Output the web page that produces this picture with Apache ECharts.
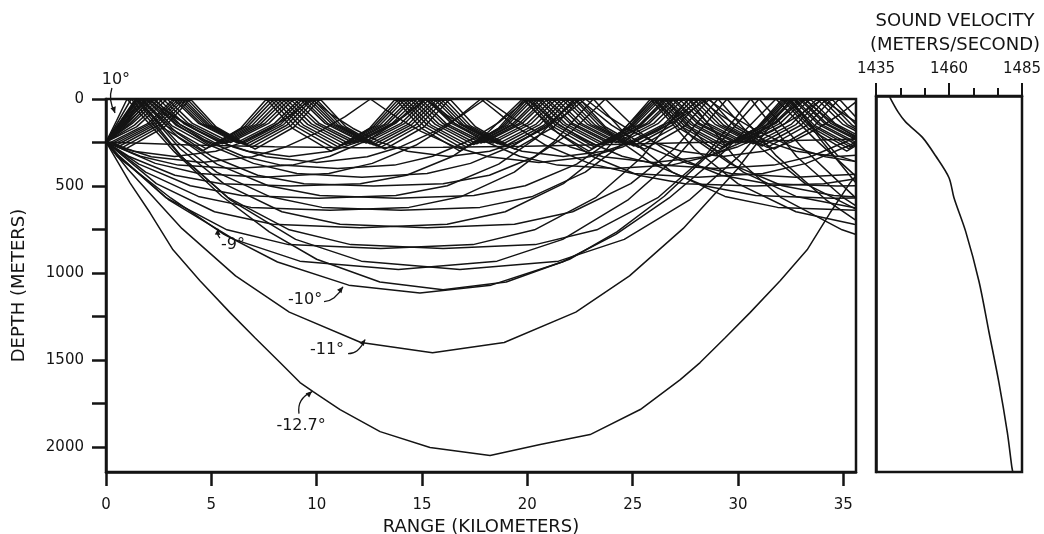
<!DOCTYPE html>
<html><head><meta charset="utf-8">
<script src="https://cdn.jsdelivr.net/npm/echarts@6/dist/echarts.min.js"></script>
<style>html,body{margin:0;padding:0;background:#fff}#c{width:1044px;height:534px}</style>
</head><body><div id="c"></div>
<script>
// ---------- tick labels ----------
const rangeTicks = [0, 5, 10, 15, 20, 25, 30, 35];
const depthTicks = [0, 250, 500, 750, 1000, 1250, 1500, 1750, 2000];
const depthLabels = [0, 500, 1000, 1500, 2000];
const velocityLabels = [1435, 1460, 1485];

// ---------- rays: [range km, depth m] ----------
const rayM127 = [[0,247],[1.14,482],[2.09,654],[3.18,867],[4.46,1045],[5.89,1228],[7.07,1372],[8.26,1515],[9.21,1630],[9.83,1682],[11.11,1785],[13.01,1912],[15.38,2003],[18.23,2049],[20.61,1986],[22.98,1929],[25.36,1785],[27.26,1613],[28.2,1515],[29.39,1372],[30.57,1228],[32.0,1045],[33.28,867],[34.37,654],[35.32,482],[35.6,440]];
const rayM11 = [[0,247],[1.05,405],[3.6,744],[6.15,1017],[8.7,1225],[12.1,1400],[15.5,1458],[18.9,1400],[22.3,1225],[24.85,1017],[27.4,744],[29.95,405],[32.5,0],[34.0,246],[35.6,483]];
const rayM10 = [[0,247],[0.53,330],[3.07,569],[5.6,778],[8.14,937],[11.52,1070],[14.9,1115],[18.28,1070],[21.66,937],[24.2,778],[26.73,569],[29.27,310],[31.8,0],[33.6,225],[35.6,445]];
const rayP10 = [[0,247],[0.5,125],[1.0,0],[3.25,304],[5.5,559],[7.75,764],[10,921],[13,1052],[16,1096],[19,1052],[22,921],[24.25,764],[26.5,559],[28.75,304],[31,0],[33,273],[35.6,570]];
const rayM95 = [[0,247],[0.62,327],[2.96,578],[6.08,807],[9.2,932],[13.88,980],[18.56,932],[21.68,807],[24.8,578],[27.14,327],[29.48,0],[31.82,327],[34.16,578],[35.6,698]];
const rayP95 = [[0,247],[0.6,125],[1.2,0],[3.54,327],[5.88,578],[9.0,807],[12.12,932],[16.8,980],[21.48,932],[24.6,807],[27.72,578],[30.06,327],[32.4,0],[34.74,327],[35.6,360]];
const rayM9 = [[0,247],[0.63,332],[2.82,565],[5.74,752],[8.66,837],[13.04,860],[17.42,837],[20.34,752],[23.26,565],[25.45,332],[27.64,0],[29.83,332],[32.02,565],[34.94,752],[35.6,779]];
const rayP9 = [[0,247],[0.7,125],[1.4,0],[3.59,332],[5.78,565],[8.7,752],[11.62,837],[16.0,860],[20.38,837],[23.3,752],[26.22,565],[28.41,332],[30.6,0],[32.79,332],[34.98,565],[35.6,615]];
const rayM85 = [[0,247],[2.39,486],[5.15,648],[7.91,720],[12.05,740],[16.19,720],[18.95,648],[21.71,486],[23.78,286],[25.85,0],[27.92,286],[29.99,486],[32.75,648],[35.51,720],[35.6,721]];
const rayP85 = [[0,247],[0.72,125],[1.45,0],[3.52,286],[5.59,486],[8.35,648],[11.11,720],[15.25,740],[19.39,720],[22.15,648],[24.91,486],[26.98,286],[29.05,0],[31.12,286],[33.19,486],[35.6,633]];
const rayM8 = [[0,247],[1.88,420],[4.38,560],[6.88,623],[10.63,640],[14.38,623],[16.88,560],[19.38,420],[21.26,247],[23.13,0],[25.0,247],[26.88,420],[29.38,560],[31.88,623],[35.6,640]];
const rayP8 = [[0,247],[0.75,125],[1.5,0],[3.38,247],[5.25,420],[7.75,560],[10.25,623],[14.0,640],[17.75,623],[20.25,560],[22.75,420],[24.63,247],[26.5,0],[28.38,247],[30.25,420],[32.75,560],[35.6,627]];
const rayM75 = [[0,247],[1.56,374],[4.0,499],[6.44,555],[10.1,570],[13.76,555],[16.2,499],[18.64,374],[20.47,220],[22.3,0],[24.13,220],[25.96,374],[28.4,499],[30.84,555],[34.5,570],[35.6,569]];
const rayP75 = [[0,247],[0.8,125],[1.6,0],[3.43,220],[5.26,374],[7.7,499],[10.14,555],[13.8,570],[17.46,555],[19.9,499],[22.34,374],[24.17,220],[26.0,0],[27.83,220],[29.66,374],[32.1,499],[34.54,555],[35.6,564]];
const rayM7 = [[0,247],[1.07,329],[3.27,438],[5.47,487],[8.77,500],[12.07,487],[14.27,438],[16.47,329],[18.12,193],[19.77,0],[21.42,193],[23.07,329],[25.27,438],[27.47,487],[30.77,500],[34.07,487],[35.6,458]];
const rayP7 = [[0,247],[0.85,125],[1.7,0],[3.35,193],[5.0,329],[7.2,438],[9.4,487],[12.7,500],[16.0,487],[18.2,438],[20.4,329],[22.05,193],[23.7,0],[25.35,193],[27.0,329],[29.2,438],[31.4,487],[34.7,500],[35.6,499]];
const rayM65 = [[0,247],[2.34,370],[4.4,428],[7.49,450],[10.58,428],[12.64,370],[14.7,266],[16.25,150],[17.79,0],[19.34,150],[20.88,266],[22.94,370],[25.0,428],[28.09,450],[31.18,428],[33.24,370],[35.3,266],[35.6,246]];
const rayP65 = [[0,247],[0.92,125],[1.85,0],[3.4,150],[4.94,266],[7.0,370],[9.06,428],[12.15,450],[15.24,428],[17.3,370],[19.36,266],[20.9,150],[22.45,0],[24.0,150],[25.54,266],[27.6,370],[29.66,428],[32.75,450],[35.6,432]];
const rayM6 = [[0,247],[1.63,329],[3.43,380],[6.13,400],[8.83,380],[10.63,329],[12.43,236],[13.78,134],[15.13,0],[16.48,134],[17.83,236],[19.63,329],[21.43,380],[24.13,400],[26.83,380],[28.63,329],[30.43,236],[31.78,134],[33.13,0],[34.48,134],[35.6,220]];
const rayP6 = [[0,247],[1.0,120],[2.0,0],[3.35,134],[4.7,236],[6.5,329],[8.3,380],[11.0,400],[13.7,380],[15.5,329],[17.3,236],[18.65,134],[20.0,0],[21.35,134],[22.7,236],[24.5,329],[26.3,380],[29.0,400],[31.7,380],[33.5,329],[35.3,236],[35.6,216]];
const rayM55 = [[0,247],[2.15,332],[4.55,365],[6.95,332],[8.55,274],[10.15,186],[11.35,101],[12.55,0],[13.75,101],[14.95,186],[16.55,274],[18.15,332],[20.55,365],[22.95,332],[24.55,274],[26.15,186],[27.35,101],[28.55,0],[29.75,101],[30.95,186],[32.55,274],[34.15,332],[35.6,360]];
const rayP55 = [[0,247],[1.0,125],[2.0,0],[3.2,101],[4.4,186],[6.0,274],[7.6,332],[10.0,365],[12.4,332],[14.0,274],[15.6,186],[16.8,101],[18.0,0],[19.2,101],[20.4,186],[22.0,274],[23.6,332],[26.0,365],[28.4,332],[30.0,274],[31.6,186],[32.8,101],[34.0,0],[35.2,101],[35.6,131]];
const rayM5 = [[0,247],[1.31,300],[3.26,330],[5.21,300],[6.51,248],[7.81,168],[8.79,92],[9.76,0],[10.73,92],[11.71,168],[13.01,248],[14.31,300],[16.26,330],[18.21,300],[19.51,248],[20.81,168],[21.79,92],[22.76,0],[23.73,92],[24.71,168],[26.01,248],[27.31,300],[29.26,330],[31.21,300],[32.51,248],[33.81,168],[34.79,92],[35.6,16]];
const rayP5 = [[0,247],[1.1,125],[2.2,0],[3.18,92],[4.15,168],[5.45,248],[6.75,300],[8.7,330],[10.65,300],[11.95,248],[13.25,168],[14.23,92],[15.2,0],[16.18,92],[17.15,168],[18.45,248],[19.75,300],[21.7,330],[23.65,300],[24.95,248],[26.25,168],[27.23,92],[28.2,0],[29.18,92],[30.15,168],[31.45,248],[32.75,300],[34.7,330],[35.6,324]];
const rayP45 = [[0,247],[0.75,140],[1.5,0],[2.72,167],[4.56,300],[6.4,167],[7.62,0],[8.84,167],[10.68,300],[12.52,167],[13.74,0],[14.96,167],[16.8,300],[18.64,167],[19.86,0],[21.08,167],[22.92,300],[24.76,167],[25.98,0],[27.2,167],[29.04,300],[30.88,167],[32.1,0],[33.32,167],[35.16,300],[35.6,268]];
const rayP4 = [[0,247],[0.85,140],[1.7,0],[2.92,159],[4.75,285],[6.58,159],[7.8,0],[9.02,159],[10.85,285],[12.68,159],[13.9,0],[15.12,159],[16.95,285],[18.78,159],[20.0,0],[21.22,159],[23.05,285],[24.88,159],[26.1,0],[27.32,159],[29.15,285],[30.98,159],[32.2,0],[33.42,159],[35.25,285],[35.6,261]];
const rayP35 = [[0,247],[0.95,140],[1.9,0],[3.12,153],[4.94,275],[6.76,153],[7.98,0],[9.2,153],[11.02,275],[12.84,153],[14.06,0],[15.28,153],[17.1,275],[18.92,153],[20.14,0],[21.36,153],[23.18,275],[25.0,153],[26.22,0],[27.44,153],[29.26,275],[31.08,153],[32.3,0],[33.52,153],[35.34,275],[35.6,258]];
const rayP3 = [[0,247],[1.05,140],[2.1,0],[3.31,150],[5.13,268],[6.95,150],[8.16,0],[9.37,150],[11.19,268],[13.01,150],[14.22,0],[15.43,150],[17.25,268],[19.07,150],[20.28,0],[21.49,150],[23.31,268],[25.13,150],[26.34,0],[27.55,150],[29.37,268],[31.19,150],[32.4,0],[33.61,150],[35.43,268],[35.6,257]];
const rayP25 = [[0,247],[1.15,140],[2.3,0],[3.51,146],[5.33,262],[7.15,146],[8.36,0],[9.57,146],[11.39,262],[13.21,146],[14.42,0],[15.63,146],[17.45,262],[19.27,146],[20.48,0],[21.69,146],[23.51,262],[25.33,146],[26.54,0],[27.75,146],[29.57,262],[31.39,146],[32.6,0],[33.81,146],[35.6,260]];
const rayP2 = [[0,247],[1.25,140],[2.5,0],[3.71,143],[5.52,257],[7.33,143],[8.54,0],[9.75,143],[11.56,257],[13.37,143],[14.58,0],[15.79,143],[17.6,257],[19.41,143],[20.62,0],[21.83,143],[23.64,257],[25.45,143],[26.66,0],[27.87,143],[29.68,257],[31.49,143],[32.7,0],[33.91,143],[35.6,249]];
const rayP15 = [[0,247],[1.35,150],[2.7,0],[3.91,141],[5.72,253],[7.53,141],[8.74,0],[9.95,141],[11.76,253],[13.57,141],[14.78,0],[15.99,141],[17.8,253],[19.61,141],[20.82,0],[22.03,141],[23.84,253],[25.65,141],[26.86,0],[28.07,141],[29.88,253],[31.69,141],[32.9,0],[34.11,141],[35.6,233]];
const rayP1 = [[0,247],[1.45,160],[2.9,0],[4.1,140],[5.91,250],[7.72,140],[8.92,0],[10.12,140],[11.93,250],[13.74,140],[14.94,0],[16.14,140],[17.95,250],[19.76,140],[20.96,0],[22.16,140],[23.97,250],[25.78,140],[26.98,0],[28.18,140],[29.99,250],[31.8,140],[33.0,0],[34.2,140],[35.6,225]];
const rayZero = [[0,247],[4,265],[8,275],[12,280],[16,278],[20,272],[24,262],[28,250],[32,240],[35.6,232]];
const rayM1 = [[0,247],[0.2,251],[2.0,140],[3.2,0],[4.4,140],[6.2,251],[8.0,140],[9.2,0],[10.4,140],[12.2,251],[14.0,140],[15.2,0],[16.4,140],[18.2,251],[20.0,140],[21.2,0],[22.4,140],[24.2,251],[26.0,140],[27.2,0],[28.4,140],[30.2,251],[32.0,140],[33.2,0],[34.4,140],[35.6,214]];
const rayM15 = [[0,247],[0.31,254],[2.12,142],[3.32,0],[4.52,142],[6.33,254],[8.14,142],[9.34,0],[10.54,142],[12.35,254],[14.16,142],[15.36,0],[16.56,142],[18.37,254],[20.18,142],[21.38,0],[22.58,142],[24.39,254],[26.2,142],[27.4,0],[28.6,142],[30.41,254],[32.22,142],[33.42,0],[34.62,142],[35.6,203]];
const rayM2 = [[0,247],[0.42,258],[2.24,144],[3.45,0],[4.66,144],[6.48,258],[8.3,144],[9.51,0],[10.72,144],[12.54,258],[14.36,144],[15.57,0],[16.78,144],[18.6,258],[20.42,144],[21.63,0],[22.84,144],[24.66,258],[26.48,144],[27.69,0],[28.9,144],[30.72,258],[32.54,144],[33.75,0],[34.96,144],[35.6,184]];
const rayM25 = [[0,247],[0.53,263],[2.35,147],[3.57,0],[4.79,147],[6.61,263],[8.43,147],[9.65,0],[10.87,147],[12.69,263],[14.51,147],[15.73,0],[16.95,147],[18.77,263],[20.59,147],[21.81,0],[23.03,147],[24.85,263],[26.67,147],[27.89,0],[29.11,147],[30.93,263],[32.75,147],[33.97,0],[35.19,147],[35.6,173]];
const rayM3 = [[0,247],[0.65,270],[2.48,151],[3.7,0],[4.92,151],[6.75,270],[8.58,151],[9.8,0],[11.02,151],[12.85,270],[14.68,151],[15.9,0],[17.12,151],[18.95,270],[20.78,151],[22.0,0],[23.22,151],[25.05,270],[26.88,151],[28.1,0],[29.32,151],[31.15,270],[32.98,151],[34.2,0],[35.42,151],[35.6,163]];
const rayM35 = [[0,247],[0.79,278],[2.63,155],[3.85,0],[5.07,155],[6.91,278],[8.75,155],[9.97,0],[11.19,155],[13.03,278],[14.87,155],[16.09,0],[17.31,155],[19.15,278],[20.99,155],[22.21,0],[23.43,155],[25.27,278],[27.11,155],[28.33,0],[29.55,155],[31.39,278],[33.23,155],[34.45,0],[35.6,146]];
const rayM4 = [[0,247],[0.92,288],[2.77,161],[4.0,0],[5.23,161],[7.08,288],[8.93,161],[10.16,0],[11.39,161],[13.24,288],[15.09,161],[16.32,0],[17.55,161],[19.4,288],[21.25,161],[22.48,0],[23.71,161],[25.56,288],[27.41,161],[28.64,0],[29.87,161],[31.72,288],[33.57,161],[34.8,0],[35.6,105]];

// ---------- sound velocity profile ----------
const profileVelocity = [1439.7, 1442.6, 1445.2, 1450.9, 1455.4, 1460.0, 1461.7, 1465.7, 1470.3, 1473.7, 1477.1, 1480.0, 1481.5, 1481.8];
const profileDepth    = [6, 92, 149, 236, 341, 466, 580, 772, 1059, 1347, 1634, 1921, 2113, 2140];

// ---------- annotations (range km, depth m) ----------
const annotLabels = ['10°', '-9°', '-10°', '-11°', '-12.7°'];
const annotTextPos = [[0.47,-109],[6.03,838],[9.45,1154],[10.49,1441],[9.26,1877]];
const annotArrows = [
  [[0.28,-63],[0.22,6],[0.43,80]],
  [[5.41,800],[5.3,775],[5.32,746]],
  [[10.35,1165],[10.83,1142],[11.25,1079]],
  [[11.49,1464],[11.92,1447],[12.3,1383]],
  [[9.16,1808],[9.26,1734],[9.78,1682]]
];

const rays = [rayM127, rayM11, rayM10, rayP10, rayM95, rayP95, rayM9, rayP9, rayM85, rayP85, rayM8, rayP8,
  rayM75, rayP75, rayM7, rayP7, rayM65, rayP65, rayM6, rayP6, rayM55, rayP55, rayM5, rayP5,
  rayP45, rayP4, rayP35, rayP3, rayP25, rayP2, rayP15, rayP1, rayZero,
  rayM1, rayM15, rayM2, rayM25, rayM3, rayM35, rayM4];

const FONT = 'DejaVu Sans';
const INK = '#141414';
const plain = v => String(Math.round(v));

const chart = echarts.init(document.getElementById('c'), null, {renderer: 'canvas'});

const series = rays.map(r => ({
  type: 'line', xAxisIndex: 0, yAxisIndex: 0, data: r,
  showSymbol: false, symbol: 'none', silent: true, animation: false, clip: true,
  lineStyle: {color: INK, width: 1.5}
}));
series.push({
  type: 'line', xAxisIndex: 1, yAxisIndex: 1,
  data: profileVelocity.map((v, i) => [v, profileDepth[i]]),
  smooth: 0.3, showSymbol: false, symbol: 'none', silent: true, animation: false,
  lineStyle: {color: INK, width: 1.6}
});

chart.setOption({
  animation: false,
  backgroundColor: '#fff',
  grid: [
    {left: 106, top: 99, width: 750, height: 373, outerBoundsMode: 'none', containLabel: false,
     show: true, borderColor: INK, borderWidth: 2.5, backgroundColor: 'transparent'},
    {left: 876, top: 96, width: 146, height: 376, outerBoundsMode: 'none', containLabel: false,
     show: true, borderColor: INK, borderWidth: 2.5, backgroundColor: 'transparent'}
  ],
  xAxis: [
    {gridIndex: 0, type: 'value', min: 0, max: 35.6, position: 'bottom',
     axisLine: {show: true, onZero: false, lineStyle: {color: INK, width: 2.5}},
     axisTick: {show: true, customValues: rangeTicks, length: 14, lineStyle: {color: INK, width: 2.5}},
     axisLabel: {customValues: rangeTicks, formatter: plain, margin: 26, fontSize: 15, color: INK, fontFamily: FONT},
     splitLine: {show: false},
     name: 'RANGE (KILOMETERS)', nameLocation: 'middle', nameGap: 40,
     nameTextStyle: {fontSize: 18, color: INK, fontFamily: FONT}},
    {gridIndex: 1, type: 'value', min: 1435, max: 1485, interval: 25, position: 'top',
     axisLine: {show: true, onZero: false, lineStyle: {color: INK, width: 2.5}},
     axisTick: {show: true, length: 13, lineStyle: {color: INK, width: 2}},
     minorTick: {show: true, splitNumber: 3, length: 8, lineStyle: {color: INK, width: 2}},
     axisLabel: {customValues: velocityLabels, formatter: plain, margin: 19, fontSize: 15, color: INK, fontFamily: FONT},
     splitLine: {show: false}, minorSplitLine: {show: false}}
  ],
  yAxis: [
    {gridIndex: 0, type: 'value', min: 0, max: 2144, inverse: true,
     axisLine: {show: true, onZero: false, lineStyle: {color: INK, width: 2.5}},
     axisTick: {show: true, customValues: depthTicks, length: 14, lineStyle: {color: INK, width: 2.5}},
     axisLabel: {customValues: depthLabels, formatter: plain, margin: 22, fontSize: 15, color: INK, fontFamily: FONT},
     splitLine: {show: false},
     name: 'DEPTH (METERS)', nameLocation: 'middle', nameRotate: 90, nameGap: 78,
     nameTextStyle: {fontSize: 18, color: INK, fontFamily: FONT}},
    {gridIndex: 1, type: 'value', min: 0, max: 2144, inverse: true,
     axisLine: {show: true, onZero: false, lineStyle: {color: INK, width: 2.5}},
     axisTick: {show: false}, axisLabel: {show: false}, splitLine: {show: false}}
  ],
  series: series
});

// ---------- annotation graphics (placed through the chart's own scale) ----------
const g = [];
annotLabels.forEach((txt, i) => {
  const tp = chart.convertToPixel({gridIndex: 0}, annotTextPos[i]);
  g.push({type: 'text', x: tp[0], y: tp[1], silent: true,
    style: {text: txt, fontSize: 16, fontFamily: FONT, fill: INK, align: 'center', verticalAlign: 'middle'}});
  const pts = annotArrows[i].map(p => chart.convertToPixel({gridIndex: 0}, p));
  g.push({type: 'polyline', silent: true, shape: {points: pts, smooth: 0.5},
    style: {stroke: INK, lineWidth: 1.3, fill: null}});
  const P = pts[pts.length - 1], Q = pts[pts.length - 2];
  let dx = P[0] - Q[0], dy = P[1] - Q[1];
  const L = Math.hypot(dx, dy) || 1; dx /= L; dy /= L;
  const nx = -dy, ny = dx;
  g.push({type: 'polygon', silent: true,
    shape: {points: [[P[0], P[1]], [P[0] - 6*dx + 2.8*nx, P[1] - 6*dy + 2.8*ny], [P[0] - 6*dx - 2.8*nx, P[1] - 6*dy - 2.8*ny]]},
    style: {fill: INK}});
});
g.push({type: 'text', x: 955, y: 21, silent: true,
  style: {text: 'SOUND VELOCITY', fontSize: 18, fontFamily: FONT, fill: INK, align: 'center', verticalAlign: 'middle'}});
g.push({type: 'text', x: 955, y: 45, silent: true,
  style: {text: '(METERS/SECOND)', fontSize: 18, fontFamily: FONT, fill: INK, align: 'center', verticalAlign: 'middle'}});
chart.setOption({graphic: g});
</script></body></html>
